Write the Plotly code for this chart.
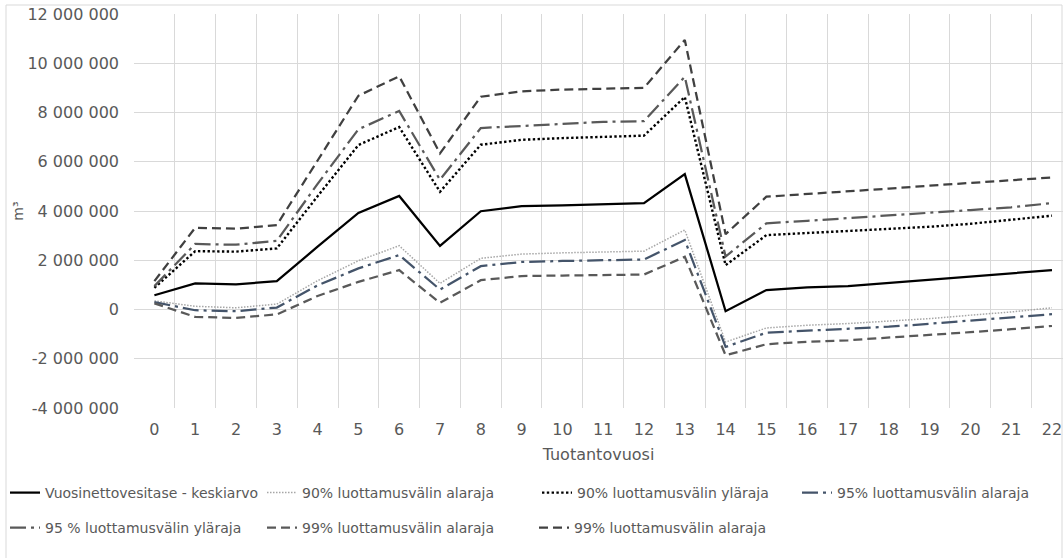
import plotly.graph_objects as go

years = list(range(0, 23))

mean_vals = [580000, 1060000, 1020000, 1150000, 2550000, 3920000, 4610000, 2580000, 3990000, 4200000, 4230000, 4270000, 4320000, 5500000, -70000, 790000, 900000, 950000, 1080000, 1220000, 1360000, 1470000, 1600000]
lo90 = [350000, 130000, 70000, 220000, 1170000, 1980000, 2590000, 1060000, 2080000, 2250000, 2300000, 2350000, 2370000, 3230000, -1320000, -750000, -640000, -570000, -470000, -370000, -230000, -100000, 70000]
hi90 = [880000, 2370000, 2350000, 2480000, 4600000, 6680000, 7410000, 4780000, 6690000, 6890000, 6960000, 7000000, 7060000, 8630000, 1800000, 3020000, 3100000, 3180000, 3260000, 3360000, 3480000, 3630000, 3810000]
lo95 = [300000, -30000, -70000, 80000, 980000, 1670000, 2210000, 810000, 1760000, 1930000, 1970000, 2000000, 2030000, 2820000, -1520000, -940000, -860000, -800000, -700000, -580000, -450000, -330000, -190000]
hi95 = [950000, 2660000, 2630000, 2790000, 5100000, 7320000, 8060000, 5270000, 7370000, 7460000, 7540000, 7620000, 7650000, 9450000, 2150000, 3500000, 3600000, 3700000, 3810000, 3930000, 4040000, 4150000, 4320000]
lo99 = [250000, -300000, -340000, -200000, 550000, 1120000, 1600000, 270000, 1190000, 1360000, 1380000, 1400000, 1420000, 2140000, -1860000, -1410000, -1310000, -1250000, -1150000, -1040000, -920000, -800000, -670000]
hi99 = [1150000, 3320000, 3280000, 3430000, 6050000, 8680000, 9470000, 6340000, 8640000, 8860000, 8930000, 8970000, 9000000, 10950000, 3060000, 4580000, 4700000, 4790000, 4910000, 5030000, 5150000, 5260000, 5360000]

names = [
    "Vuosinettovesitase - keskiarvo",
    "90% luottamusvälin alaraja",
    "90% luottamusvälin yläraja",
    "95% luottamusvälin alaraja",
    "95 % luottamusvälin yläraja",
    "99% luottamusvälin alaraja",
    "99% luottamusvälin alaraja",
]
series = [mean_vals, lo90, hi90, lo95, hi95, lo99, hi99]

y_tickvals = [-4000000, -2000000, 0, 2000000, 4000000, 6000000, 8000000, 10000000, 12000000]
y_ticktext = ["-4 000 000", "-2 000 000", "0", "2 000 000", "4 000 000", "6 000 000", "8 000 000", "10 000 000", "12 000 000"]

styles = [
    dict(color="#000000", width=2.25, dash="solid"),
    dict(color="#a6a6a6", width=1.5, dash="1.5px,1.5px"),
    dict(color="#000000", width=2.4, dash="2.4px,2.4px"),
    dict(color="#44546a", width=2.25, dash="16px,5px,3px,5px"),
    dict(color="#595959", width=2.25, dash="16px,5px,3px,5px"),
    dict(color="#595959", width=2.25, dash="9px,5px"),
    dict(color="#404040", width=2.25, dash="9px,5px"),
]

W, H = 1063, 558
legend_pos = [(43, 493), (300, 493), (575, 493), (835, 493), (43, 528), (300, 528), (572, 528)]

fig = go.Figure()
for i, (nm, vals, st) in enumerate(zip(names, series, styles)):
    lg = "legend" if i == 0 else f"legend{i+1}"
    fig.add_trace(go.Scatter(x=years, y=vals, mode="lines", name=nm, line=st, legend=lg))

font_family = "DejaVu Sans, Verdana, sans-serif"
layout_legends = {}
for i, (tx, ty) in enumerate(legend_pos):
    key = "legend" if i == 0 else f"legend{i+1}"
    layout_legends[key] = dict(
        xref="container", yref="container",
        x=(tx - 38) / W, xanchor="left",
        y=1 - ty / H, yanchor="middle",
        bgcolor="rgba(0,0,0,0)", borderwidth=0,
        font=dict(family=font_family, size=14, color="#595959"),
        orientation="h",
    )

grid_c = "#d9d9d9"
L, T, B = 134, 14, 150
PW, PH = W - L, H - T - B
fig.update_layout(
    width=W, height=H,
    margin=dict(l=L, r=0, t=T, b=B, autoexpand=False),
    plot_bgcolor="white", paper_bgcolor="white",
    font=dict(family=font_family, color="#595959"),
    showlegend=True,
    **layout_legends,
    xaxis=dict(
        range=[-0.5, 22.27],
        tickvals=years, ticktext=[str(y) for y in years],
        showgrid=False, zeroline=False, showline=False,
        ticks="", ticklabelstandoff=10, automargin=False,
        tickfont=dict(size=16, color="#595959"),
        minor=dict(tickvals=[i - 0.5 for i in range(24)], showgrid=True, gridcolor=grid_c, gridwidth=1, ticks=""),
        title=dict(text="Tuotantovuosi", font=dict(size=16, color="#595959"), standoff=10),
        fixedrange=True,
    ),
    yaxis=dict(
        range=[-4000000, 12000000],
        tickvals=y_tickvals, ticktext=y_ticktext,
        showgrid=True, gridcolor=grid_c, gridwidth=1,
        zeroline=False, showline=False, ticks="", ticklabelstandoff=14, automargin=False,
        tickfont=dict(size=16, color="#595959"),
        title=dict(text="m³", font=dict(size=14, color="#595959"), standoff=0),
        fixedrange=True,
    ),
    shapes=[
        dict(type="rect", xref="paper", yref="paper",
             x0=(6 - L) / PW, x1=(1062 - L) / PW,
             y0=(H - B - 570) / PH, y1=(H - B - 5) / PH,
             line=dict(color="#d9d9d9", width=1), fillcolor="rgba(0,0,0,0)", layer="below"),
    ],
)

fig.write_html(
    "out.html",
    config={"displayModeBar": False, "staticPlot": True},
    post_script="document.body.style.margin='0';document.body.style.overflow='hidden';",
)
